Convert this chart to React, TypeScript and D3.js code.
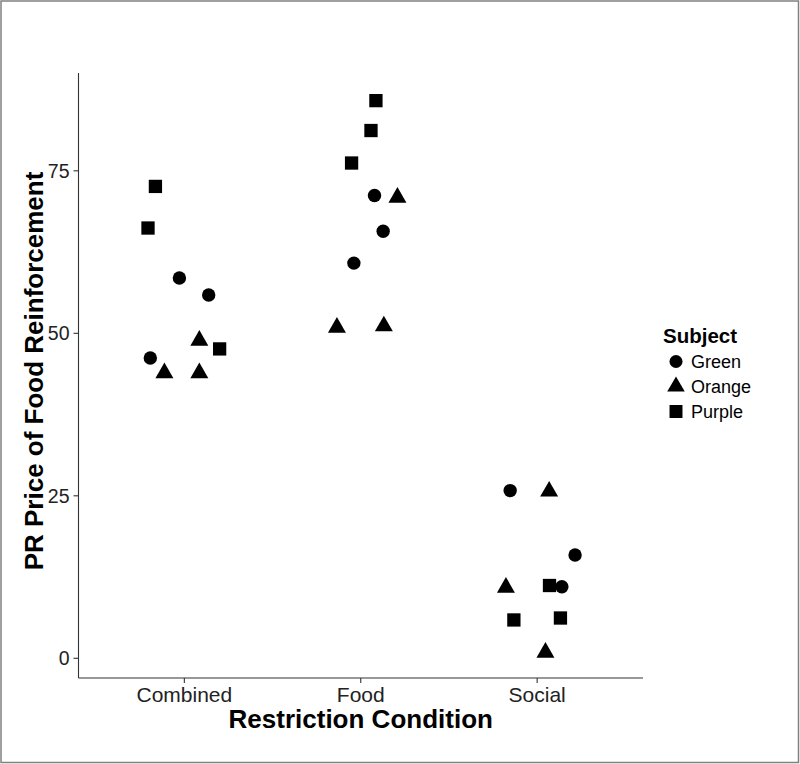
import React from "react";
import * as d3 from "d3";

const conditions = ["Combined", "Food", "Social"];
const subjects = ["Green", "Orange", "Purple"];
const yTicks = [0, 25, 50, 75];

// values per condition (Combined, Food, Social), three sessions each
const greenValues = [[58.5, 55.9, 46.2], [71.2, 65.7, 60.8], [25.8, 15.9, 11.0]];
const greenJitter = [[-0.028, 0.138, -0.193], [0.078, 0.127, -0.039], [-0.153, 0.215, 0.14]];
const orangeValues = [[48.9, 43.9, 43.9], [70.9, 50.9, 51.1], [25.7, 10.9, 0.9]];
const orangeJitter = [[0.085, -0.113, 0.085], [0.208, -0.135, 0.131], [0.068, -0.177, 0.047]];
const purpleValues = [[72.6, 66.2, 47.6], [85.8, 81.2, 76.2], [11.2, 5.9, 6.2]];
const purpleJitter = [[-0.164, -0.206, 0.2], [0.086, 0.058, -0.052], [0.07, -0.132, 0.132]];

const seriesValues = [greenValues, orangeValues, purpleValues];
const seriesJitter = [greenJitter, orangeJitter, purpleJitter];

const W = 800;
const H = 764;
const FONT = "'Liberation Sans', Arial, Helvetica, sans-serif";

const symbolTypes = [d3.symbolCircle, d3.symbolTriangle, d3.symbolSquare];
const symbolSizes = [141, 140, 177];

export default function App() {
  const plotLeft = 78.5;
  const plotRight = 643;
  const plotTop = 73;
  const plotBottom = 678;

  const x = d3.scalePoint<string>().domain(conditions).range([plotLeft, plotRight]).padding(0.6);
  const step = x.step();
  const y = d3.scaleLinear().domain([-3.03, 90.05]).range([plotBottom, plotTop]);

  const points: { cx: number; cy: number; s: number }[] = [];
  subjects.forEach((_, si) => {
    conditions.forEach((c, ci) => {
      seriesValues[si][ci].forEach((v, k) => {
        points.push({
          cx: (x(c) as number) + seriesJitter[si][ci][k] * step,
          cy: y(v),
          s: si,
        });
      });
    });
  });

  const symPath = (s: number) => d3.symbol().type(symbolTypes[s]).size(symbolSizes[s])() as string;
  const legendSym = (s: number) =>
    d3.symbol().type(symbolTypes[s]).size(symbolSizes[s] * 0.95)() as string;

  return (
    <svg
      width={W}
      height={H}
      style={{ position: "absolute", left: 0, top: 0, display: "block", background: "#fff" }}
      fontFamily={FONT}
    >
      <rect x={0} y={0} width={W} height={H} fill="#fff" />
      <rect x={1} y={1} width={797.5} height={761.5} fill="none" stroke="#808080" stroke-width={1.5} />

      {/* axes */}
      <line x1={plotLeft} x2={plotRight} y1={plotBottom} y2={plotBottom} stroke="#333" strokeWidth={1.1} />
      <line x1={plotLeft} x2={plotLeft} y1={plotTop} y2={plotBottom} stroke="#333" strokeWidth={1.1} />

      {yTicks.map((t) => (
        <g key={"y" + t}>
          <line x1={plotLeft - 5} x2={plotLeft} y1={y(t)} y2={y(t)} stroke="#333" strokeWidth={1.1} />
          <text x={plotLeft - 9} y={y(t)} dy="0.36em" textAnchor="end" fontSize={19.5} fill="#222">
            {t}
          </text>
        </g>
      ))}
      {conditions.map((c) => (
        <g key={"x" + c}>
          <line x1={x(c)} x2={x(c)} y1={plotBottom} y2={plotBottom + 5} stroke="#333" strokeWidth={1.1} />
          <text x={x(c)} y={702} textAnchor="middle" fontSize={21} fill="#222">
            {c}
          </text>
        </g>
      ))}

      <text x={(plotLeft + plotRight) / 2} y={728} textAnchor="middle" fontSize={26} fontWeight="bold" fill="#000">
        Restriction Condition
      </text>
      <text
        transform={`translate(43, 371) rotate(-90)`}
        textAnchor="middle"
        fontSize={26}
        fontWeight="bold"
        fill="#000"
      >
        PR Price of Food Reinforcement
      </text>

      {points.map((p, i) => (
        <path key={i} d={symPath(p.s)} transform={`translate(${p.cx},${p.cy})`} fill="#000" />
      ))}

      {/* legend */}
      <text x={663} y={343} fontSize={20.5} fontWeight="bold" fill="#000">
        Subject
      </text>
      {subjects.map((s, i) => (
        <g key={s} transform={`translate(0, ${361.5 + i * 25})`}>
          <path d={legendSym(i)} transform="translate(676,0)" fill="#000" />
          <text x={691} y={0} dy="0.36em" fontSize={18} fill="#000">
            {s}
          </text>
        </g>
      ))}
    </svg>
  );
}
